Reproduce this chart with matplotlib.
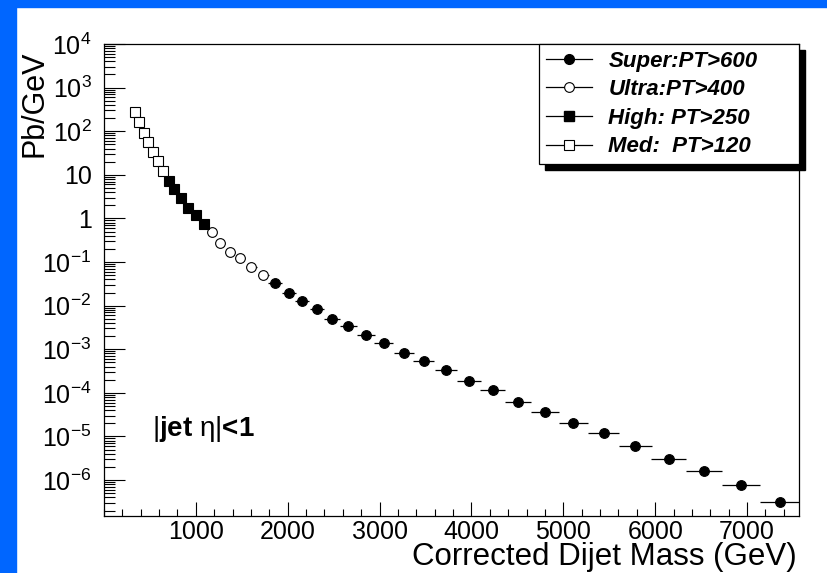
import matplotlib
matplotlib.use("Agg")
import matplotlib.pyplot as plt
from matplotlib.lines import Line2D
from matplotlib.patches import Rectangle
from matplotlib.transforms import IdentityTransform
from matplotlib.ticker import LogLocator, MultipleLocator, NullFormatter

plt.rcParams['font.family'] = ['Liberation Sans', 'DejaVu Sans']
plt.rcParams['mathtext.fontset'] = 'custom'
plt.rcParams['mathtext.rm'] = 'Liberation Sans'
plt.rcParams['mathtext.bf'] = 'Liberation Sans:bold'
plt.rcParams['mathtext.it'] = 'Liberation Sans:italic'
plt.rcParams['mathtext.default'] = 'regular'

# Super: PT>600
super_mass = [1862, 2014, 2155, 2318, 2478, 2660, 2848, 3047, 3261, 3482, 3720,
              3971, 4232, 4508, 4801, 5109, 5438, 5783, 6145, 6529, 6932, 7355]
super_xs = [0.033, 0.0191, 0.0128, 0.0082, 0.0050, 0.0034, 0.00212, 0.00142,
            8.05e-4, 5.45e-4, 3.33e-4, 1.87e-4, 1.18e-4, 6.25e-5, 3.63e-5,
            2.06e-5, 1.20e-5, 6.2e-6, 3.0e-6, 1.58e-6, 7.7e-7, 3.1e-7]
super_hw = [75, 75, 76, 81, 86, 93, 97, 104, 109, 115, 122,
            128, 135, 143, 151, 160, 170, 177, 187, 197, 207, 215]

# Ultra: PT>400
ultra_mass = [1171, 1268, 1373, 1482, 1605, 1736]
ultra_xs = [0.48, 0.277, 0.167, 0.124, 0.078, 0.0495]
ultra_hw = [48, 50, 53, 56, 60, 64]

# High: PT>250
high_mass = [710, 764, 840, 916, 1000, 1084]
high_xs = [7.2, 4.8, 2.89, 1.77, 1.20, 0.75]
high_hw = [28, 33, 38, 40, 42, 43]

# Med: PT>120
med_mass = [340, 384, 432, 482, 529, 584, 638]
med_xs = [271, 163, 92.5, 56.5, 32.8, 21.0, 12.0]
med_hw = [22, 23, 24, 25, 26, 27, 29]

yticks = [1e-6, 1e-5, 1e-4, 1e-3, 1e-2, 1e-1, 1, 10, 1e2, 1e3, 1e4]
ylabels = ['10$^{-6}$', '10$^{-5}$', '10$^{-4}$', '10$^{-3}$', '10$^{-2}$',
           '10$^{-1}$', '1', '10', '10$^{2}$', '10$^{3}$', '10$^{4}$']
xticks = [1000, 2000, 3000, 4000, 5000, 6000, 7000]

fig = plt.figure(figsize=(8.27, 5.73), dpi=100)
fig.patch.set_facecolor('white')
blue = '#0066FF'
fig.add_artist(Rectangle((0, 0), 16 / 827, 1, transform=fig.transFigure,
                         color=blue, zorder=-5))
fig.add_artist(Rectangle((0, 1 - 7 / 573), 1, 7 / 573, transform=fig.transFigure,
                         color=blue, zorder=-5))

ax = fig.add_axes([104 / 827, 1 - 516 / 573, 695 / 827, 472 / 573])
ax.patch.set_alpha(0)

series = [
    (super_mass, super_xs, super_hw, 'o', 'black'),
    (ultra_mass, ultra_xs, ultra_hw, 'o', 'white'),
    (high_mass, high_xs, high_hw, 's', 'black'),
    (med_mass, med_xs, med_hw, 's', 'white'),
]
for m, v, hw, mk, fc in series:
    ax.errorbar(m, v, xerr=hw, fmt=mk, ms=7, mfc=fc, mec='black', mew=0.8,
                ecolor='black', elinewidth=0.9, capsize=0)

ax.set_yscale('log')
ax.set_xlim(0, 7565)
ax.set_ylim(1.5e-7, 1e4)
ax.set_yticks(yticks, labels=ylabels)
ax.yaxis.set_minor_locator(LogLocator(base=10, subs=range(2, 10), numticks=100))
ax.yaxis.set_minor_formatter(NullFormatter())
ax.set_xticks(xticks)
ax.xaxis.set_minor_locator(MultipleLocator(200))

ax.tick_params(axis='both', which='both', direction='in', top=False, right=False,
               width=0.8, labelsize=18)
ax.tick_params(axis='y', which='major', length=15, pad=9)
ax.tick_params(axis='y', which='minor', length=8)
ax.tick_params(axis='x', which='major', length=10, pad=3)
ax.tick_params(axis='x', which='minor', length=5)
for s in ax.spines.values():
    s.set_linewidth(0.9)

ax.set_xlabel('Corrected Dijet Mass (GeV)', fontsize=22.5, loc='right')
ax.xaxis.set_label_coords(0.997, -0.104)
ax.xaxis.label.set_va('baseline')
ax.set_ylabel('Pb/GeV', fontsize=22, loc='top')
ax.yaxis.set_label_coords(-0.089, 0.987)
ax.yaxis.label.set_va('baseline')

ax.text(0.069, 0.1695, r'$\mathrm{|}$jet $\mathrm{\eta|}$<1', transform=ax.transAxes,
        fontsize=20, fontweight='bold', va='baseline', ha='left')

handles = [
    Line2D([], [], color='black', lw=0.9, marker='o', ms=7, mfc='black', mec='black'),
    Line2D([], [], color='black', lw=0.9, marker='o', ms=7, mfc='white', mec='black', mew=0.8),
    Line2D([], [], color='black', lw=0.9, marker='s', ms=7, mfc='black', mec='black'),
    Line2D([], [], color='black', lw=0.9, marker='s', ms=7, mfc='white', mec='black', mew=0.8),
]
labels = ['Super:PT>600', 'Ultra:PT>400', 'High: PT>250', 'Med:  PT>120']
leg = ax.legend(handles, labels, loc='upper right', bbox_to_anchor=(0.626, 0, 0.374, 1.0),
                mode='expand', borderaxespad=0, fancybox=False, framealpha=1,
                edgecolor='black', numpoints=1, handlelength=2.1, handletextpad=0.72,
                borderpad=0.3, labelspacing=0.34,
                prop={'family': 'Liberation Sans', 'weight': 'bold',
                      'style': 'italic', 'size': 16})
leg.get_frame().set_linewidth(0.9)

fig.canvas.draw()
bb = leg.get_window_extent()
fig.add_artist(Rectangle((bb.x0 + 6, bb.y0 - 6), bb.width, bb.height,
                         transform=IdentityTransform(), color='black', zorder=-1))

fig.savefig('out.png', dpi=100)
